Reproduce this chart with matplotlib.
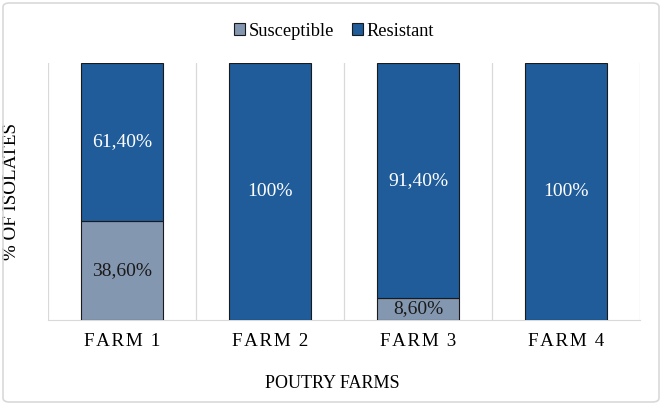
import numpy as np
import matplotlib.pyplot as plt
from matplotlib.patches import FancyBboxPatch

farms = ['FARM 1', 'FARM 2', 'FARM 3', 'FARM 4']
susceptible = [38.6, 0, 8.6, 0]
resistant = [61.4, 100, 91.4, 100]
sus_labels = ['38,60%', '', '8,60%', '']
res_labels = ['61,40%', '100%', '91,40%', '100%']

plt.rcParams['font.family'] = ['Liberation Serif', 'DejaVu Serif']

fig = plt.figure(figsize=(6.62, 4.05), dpi=100)
ax = fig.add_axes([48/662, 1 - 320/405, 592/662, 257/405])

x = np.arange(len(farms))
w = 0.55
b1 = ax.bar(x, susceptible, w, color='#8497B0', edgecolor='#1a1a1a', linewidth=0.8,
            label='Susceptible', zorder=3)
b2 = ax.bar(x, resistant, w, bottom=susceptible, color='#1F5C99', edgecolor='#1a1a1a',
            linewidth=0.8, label='Resistant', zorder=3)

for i in range(len(farms)):
    if susceptible[i] > 0:
        ax.text(x[i], susceptible[i] / 2, sus_labels[i], ha='center', va='center',
                fontsize=14, color='#1a1a1a', zorder=4)
    ax.text(x[i], susceptible[i] + resistant[i] / 2, res_labels[i], ha='center',
            va='center', fontsize=14, color='white', zorder=4)

ax.set_xlim(-0.5, 3.5)
ax.set_ylim(0, 100)
ax.set_yticks([])
ax.set_xticks(x)
# Excel-style letter spacing on category labels
ax.set_xticklabels(['\u200a'.join(f) for f in farms], fontsize=13.7)
ax.tick_params(axis='x', length=0, pad=9)
for g in [-0.5, 0.5, 1.5, 2.5, 3.5]:
    ax.axvline(g, color='#d9d9d9', linewidth=0.9, zorder=1)
for s in ['top', 'right', 'left']:
    ax.spines[s].set_visible(False)
ax.spines['bottom'].set_color('#d9d9d9')

ax.set_ylabel('% OF ISOLATES', fontsize=13.7)
ax.yaxis.set_label_coords(-28/592, 0.5)
fig.text(332/662, 1 - 383/405, 'POUTRY FARMS', fontsize=13, ha='center', va='center')

fig.legend(handles=[b1, b2], loc='center', bbox_to_anchor=(334/662, 1 - 31/405), ncol=2,
           frameon=False, fontsize=13.2, handlelength=0.6, handleheight=0.6,
           handletextpad=0.2, columnspacing=1.0)

fig.patches.append(FancyBboxPatch((3/662, 3/405), 656/662, 399/405,
                                  boxstyle='round,pad=0,rounding_size=0.01',
                                  transform=fig.transFigure, facecolor='none',
                                  edgecolor='#d9d9d9', linewidth=1.2))

fig.savefig('out.png', dpi=100)
